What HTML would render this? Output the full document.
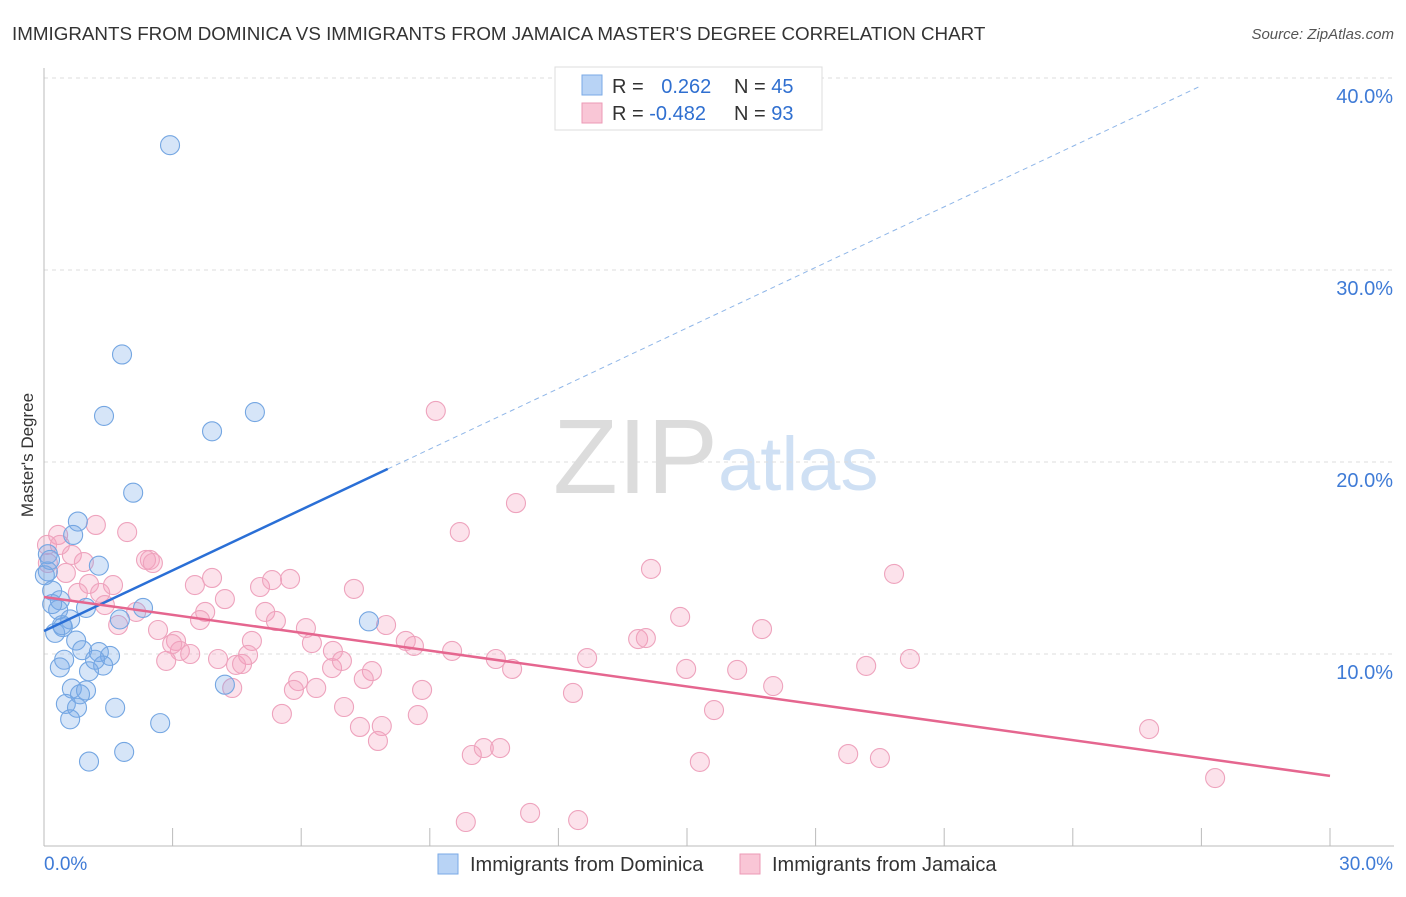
<!DOCTYPE html>
<html><head><meta charset="utf-8"><style>
body{margin:0;background:#fff;font-family:"Liberation Sans",sans-serif;}
svg text{font-family:"Liberation Sans",sans-serif;}
</style></head><body>
<svg width="1406" height="892" xmlns="http://www.w3.org/2000/svg">
<text x="12" y="40" font-size="18.8" fill="#333">IMMIGRANTS FROM DOMINICA VS IMMIGRANTS FROM JAMAICA MASTER'S DEGREE CORRELATION CHART</text>
<text x="1394" y="39" font-size="15" fill="#555" font-style="italic" text-anchor="end">Source: ZipAtlas.com</text>
<g>
<text x="553" y="493" font-size="106" font-family="Liberation Serif" fill="#dcdcdc">ZIP</text>
<text x="718" y="490" font-size="76" fill="#cfe0f4">atlas</text>
</g>
<g id="grid"></g>
<g id="axes"></g>
<g id="marks"></g>
<text x="33" y="455" font-size="17" fill="#333" text-anchor="middle" transform="rotate(-90 33 455)">Master's Degree</text>
<g>
<rect x="555" y="67" width="267" height="63" fill="#fff" stroke="#ddd"/>
<rect x="582" y="75" width="20" height="20" fill="#b8d3f5" stroke="#7aaae6"/>
<rect x="582" y="103" width="20" height="20" fill="#f9c6d6" stroke="#ec9ab6"/>
<text x="612" y="93" font-size="20" fill="#333">R = <tspan fill="#2f6fd0" dx="12">0.262</tspan></text>
<text x="734" y="93" font-size="20" fill="#333">N = <tspan fill="#2f6fd0">45</tspan></text>
<text x="612" y="120" font-size="20" fill="#333">R = <tspan fill="#2f6fd0">-0.482</tspan></text>
<text x="734" y="120" font-size="20" fill="#333">N = <tspan fill="#2f6fd0">93</tspan></text>
</g>
<g>
<rect x="438" y="854" width="20" height="20" fill="#b8d3f5" stroke="#7aaae6"/>
<text x="470" y="871" font-size="20" fill="#333">Immigrants from Dominica</text>
<rect x="740" y="854" width="20" height="20" fill="#f9c6d6" stroke="#ec9ab6"/>
<text x="772" y="871" font-size="20" fill="#333">Immigrants from Jamaica</text>
</g>
</svg>
<script>
const yTicks=[10,20,30,40];
const yTickLabels=["10.0%","20.0%","30.0%","40.0%"];
const xTickLabels=["0.0%","30.0%"];
const blueX=[2.94,1.82,1.40,3.92,4.92,2.08,0.79,0.68,0.09,0.09,1.28,0.19,0.37,0.98,2.31,0.33,0.61,0.44,0.26,0.75,0.89,1.54,1.28,0.47,0.37,1.38,1.05,0.65,0.98,0.84,0.51,0.77,0.61,1.66,4.22,2.71,1.87,1.05,7.58,0.14,0.02,1.77,1.19,0.19,0.42];
const blueY=[36.5,25.6,22.4,21.6,22.6,18.4,16.9,16.2,15.2,14.3,14.6,13.3,12.8,12.4,12.4,12.3,11.8,11.4,11.1,10.7,10.2,9.9,10.1,9.7,9.3,9.4,9.1,8.2,8.1,7.9,7.4,7.2,6.6,7.2,8.4,6.4,4.9,4.4,11.7,14.9,14.1,11.8,9.7,12.6,11.5];
const pinkX=[9.14,11.01,9.70,1.21,1.94,0.33,0.65,0.93,0.09,2.47,2.38,2.54,0.51,3.92,3.52,1.61,1.05,5.04,5.32,5.74,7.23,14.16,19.83,4.22,1.31,0.79,1.42,2.15,3.76,5.16,1.73,3.64,5.41,6.11,7.98,14.84,16.75,2.66,3.08,3.17,3.41,4.85,2.99,6.25,6.74,8.44,8.63,9.52,13.86,14.04,2.85,4.06,4.48,4.76,4.62,6.72,6.95,7.65,10.54,10.92,12.67,14.98,16.17,19.18,20.20,5.93,6.35,5.83,7.46,8.82,4.39,12.34,17.01,5.55,7.00,8.72,15.63,7.37,7.88,7.79,9.98,10.26,10.64,15.30,18.76,19.50,25.78,27.32,11.34,9.84,12.46,0.07,0.37];
const pinkY=[22.66,17.86,16.35,16.72,16.35,16.20,15.16,14.79,14.74,14.90,14.90,14.74,14.22,13.96,13.59,13.59,13.65,13.49,13.85,13.91,13.39,14.43,14.17,12.86,13.18,13.18,12.55,12.19,12.19,12.19,11.51,11.77,11.72,11.35,11.51,11.93,11.30,11.25,10.68,10.16,10.00,10.68,10.52,10.57,10.16,10.68,10.42,10.16,10.78,10.83,9.64,9.74,9.43,9.95,9.48,9.27,9.64,9.11,9.74,9.22,9.79,9.22,9.17,9.38,9.74,8.59,8.23,8.13,8.70,8.13,8.23,7.97,8.33,6.88,7.24,6.82,7.08,6.20,6.25,5.47,4.74,5.10,5.10,4.38,4.79,4.58,6.09,3.54,1.72,1.25,1.35,15.68,15.68];
const blueTrendX=[0,8.02,27];
const blueTrendY=[11.2,19.64,39.6];
const pinkTrendX=[0,30];
const pinkTrendY=[12.97,3.65];

const X0=44,X1=1330,Y0=846,PX_PER=19.2;
const sx=v=>X0+(X1-X0)*v/30;
const sy=v=>Y0-v*PX_PER;
const NS="http://www.w3.org/2000/svg";
function mk(tag,attrs,parent){const e=document.createElementNS(NS,tag);for(const k in attrs)e.setAttribute(k,attrs[k]);parent.appendChild(e);return e;}
const grid=document.getElementById('grid'),axes=document.getElementById('axes'),marks=document.getElementById('marks');
yTicks.forEach((t,i)=>{
  const l=mk('line',{x1:X0,x2:1394,y1:sy(t),y2:sy(t),stroke:'#ddd','stroke-dasharray':'4 4'},grid);
  
  
  const tx=mk('text',{x:1393,y:sy(t)+25,'font-size':20,fill:'#3f7bd6','text-anchor':'end'},grid);
  tx.textContent=yTickLabels[i];
  
  
});
let a=mk('line',{x1:X0,x2:X0,y1:68,y2:Y0,stroke:'#bbb'},axes);


a=mk('line',{x1:X0,x2:1394,y1:Y0,y2:Y0,stroke:'#bbb'},axes);


for(let v=3;v<=30;v+=3){
  const t=mk('line',{x1:sx(v),x2:sx(v),y1:Y0-18,y2:Y0,stroke:'#bbb'},axes);
  
  
}
[[0,'start'],[30,'end']].forEach((p,i)=>{
  const tx=mk('text',{x:i?1393:44,y:870,'font-size':19,fill:'#3f7bd6','text-anchor':p[1]},axes);
  tx.textContent=xTickLabels[i];
  
  
});
pinkX.forEach((x,i)=>{
  const c=mk('circle',{cx:sx(x),cy:sy(pinkY[i]),r:9.5,fill:'rgba(244,160,188,0.3)',stroke:'#eea3bd','stroke-width':1.1},marks);
  
  
});
blueX.forEach((x,i)=>{
  const c=mk('circle',{cx:sx(x),cy:sy(blueY[i]),r:9.5,fill:'rgba(120,170,232,0.3)',stroke:'#74a6e2','stroke-width':1.1},marks);
  
  
});
let tl=mk('line',{x1:sx(blueTrendX[0]),y1:sy(blueTrendY[0]),x2:sx(blueTrendX[1]),y2:sy(blueTrendY[1]),stroke:'#2a6fd6','stroke-width':2.5},marks);


tl=mk('line',{x1:sx(blueTrendX[1]),y1:sy(blueTrendY[1]),x2:sx(blueTrendX[2]),y2:sy(blueTrendY[2]),stroke:'#8fb6e8','stroke-width':1,'stroke-dasharray':'5 4'},marks);


tl=mk('line',{x1:sx(pinkTrendX[0]),y1:sy(pinkTrendY[0]),x2:sx(pinkTrendX[1]),y2:sy(pinkTrendY[1]),stroke:'#e5668f','stroke-width':2.5},marks);


</script>
</body></html>
